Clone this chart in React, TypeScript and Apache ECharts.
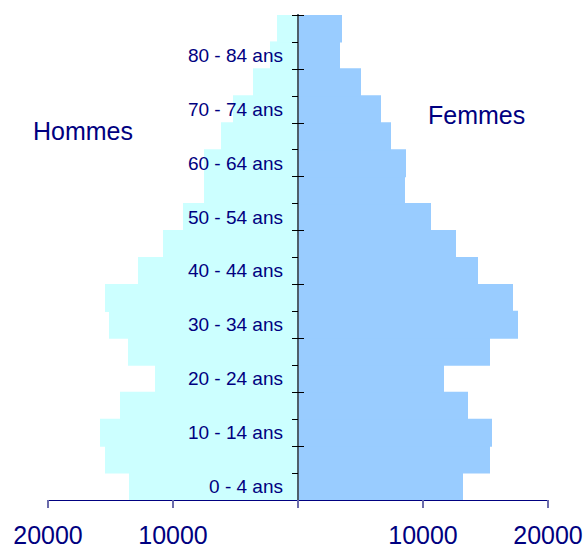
import React, { useEffect, useRef } from "react";
import * as echarts from "echarts";

const categories = [
  "0 - 4 ans", "5 - 9 ans", "10 - 14 ans", "15 - 19 ans", "20 - 24 ans",
  "25 - 29 ans", "30 - 34 ans", "35 - 39 ans", "40 - 44 ans", "45 - 49 ans",
  "50 - 54 ans", "55 - 59 ans", "60 - 64 ans", "65 - 69 ans", "70 - 74 ans",
  "75 - 79 ans", "80 - 84 ans", "85 ans et +",
];
const hommes = [
  13520, 15440, 15840, 14240, 11440, 13600, 15120, 15440, 12800, 10800,
  9200, 7520, 7520, 6160, 5200, 3600, 2240, 1680,
];
const femmes = [
  13200, 15360, 15520, 13600, 11680, 15360, 17600, 17200, 14400, 12640,
  10640, 8560, 8640, 7440, 6640, 5040, 3360, 3520,
];
const xMax = 20000;
const xInterval = 10000;

const NAVY = "#000080";
const FONT = "'Liberation Sans', Arial, sans-serif";

export default function App() {
  const ref = useRef<HTMLDivElement>(null);
  useEffect(() => {
    if (!ref.current) return;
    const chart = echarts.init(ref.current, undefined, { renderer: "svg" });
    const xAxisBase = {
      type: "value",
      interval: xInterval,
      splitLine: { show: false },
      axisLine: { show: true, onZero: false, lineStyle: { color: NAVY, width: 1 } },
      axisTick: { show: true, length: 8, lineStyle: { color: "#6b6bab", width: 2 } },
      axisLabel: {
        color: NAVY,
        fontFamily: FONT,
        fontSize: 25,
        margin: 22,
        formatter: (v: number) => (v === 0 ? "" : String(Math.abs(v))),
      },
      z: 12,
    };
    chart.setOption({
      animation: false,
      backgroundColor: "#ffffff",
      grid: [
        { left: 48, width: 250, top: 15, bottom: 49, containLabel: false, outerBoundsMode: "none" },
        { left: 298, width: 250, top: 15, bottom: 49, containLabel: false, outerBoundsMode: "none" },
      ],
      xAxis: [
        { ...xAxisBase, gridIndex: 0, min: -xMax, max: 0 },
        { ...xAxisBase, gridIndex: 1, min: 0, max: xMax },
      ],
      yAxis: [
        {
          type: "category",
          gridIndex: 0,
          data: categories,
          position: "right",
          axisLine: { show: true, onZero: false, lineStyle: { color: "#4f5f6a", width: 2 } },
          axisTick: { show: true, length: 6, lineStyle: { color: "#000000", width: 1 } },
          axisLabel: {
            inside: true,
            color: NAVY,
            fontFamily: FONT,
            fontSize: 19,
            margin: 15,
            interval: 1,
          },
          z: 10,
        },
        {
          type: "category",
          gridIndex: 1,
          data: categories,
          position: "left",
          axisLine: { show: true, onZero: false, lineStyle: { color: "#4f5f6a", width: 2 } },
          axisTick: { show: true, length: 6, lineStyle: { color: "#000000", width: 1 } },
          axisLabel: { show: false },
          z: 10,
        },
      ],
      series: [
        {
          name: "Hommes",
          type: "bar",
          xAxisIndex: 0,
          yAxisIndex: 0,
          data: hommes.map((v) => -v),
          barWidth: "104%",
          itemStyle: { color: "#ccffff" },
        },
        {
          name: "Femmes",
          type: "bar",
          xAxisIndex: 1,
          yAxisIndex: 1,
          data: femmes,
          barWidth: "104%",
          itemStyle: { color: "#99ccff" },
        },
      ],
      graphic: [
        {
          type: "text",
          left: 33,
          top: 118,
          style: { text: "Hommes", fill: NAVY, font: `25px ${FONT}` },
        },
        {
          type: "text",
          left: 428,
          top: 102,
          style: { text: "Femmes", fill: NAVY, font: `25px ${FONT}` },
        },
      ],
    });
    return () => chart.dispose();
  }, []);
  return (
    <div
      ref={ref}
      style={{ position: "fixed", left: 0, top: 0, width: 586, height: 549 }}
    />
  );
}
